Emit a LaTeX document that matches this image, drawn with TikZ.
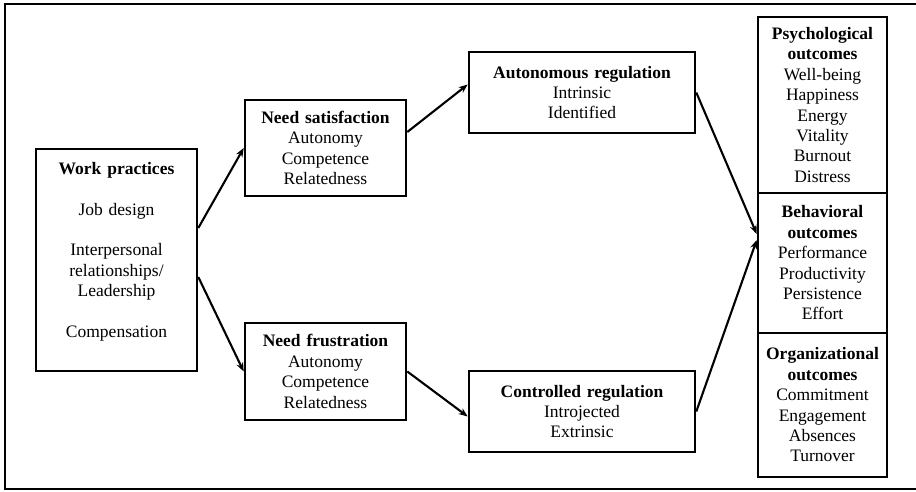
\documentclass[tikz,border=0pt]{standalone}
\usepackage{fontspec}
\setmainfont{Liberation Serif}
\usetikzlibrary{arrows.meta}

\tikzset{
  box/.style={draw, line width=2.6pt, align=center, inner sep=2pt,
    font=\fontsize{17.5}{20.4}\selectfont},
  flow/.style={-{Stealth[length=9pt, width=7pt]}, line width=2.1pt},
}

\begin{document}
\begin{tikzpicture}[x=1pt, y=-1pt]
    \clip (0,0) rectangle (916,491);
    \draw[line width=1.5pt] (5,4) rectangle (930,489);

    \node[box, minimum width=161pt, minimum height=222pt, text width=150pt] (work) at (116.5,260)
        {\textbf{Work practices}\\[20.4pt] Job design\\[20.4pt] Interpersonal\\ relationships/\\ Leadership\\[20.4pt] Compensation\\ \mbox{}};

    \node[box, minimum width=161pt, minimum height=96pt, text width=150pt] (needsat) at (325.5,148)
        {\textbf{Need satisfaction}\\ Autonomy\\ Competence\\ Relatedness};
    \node[box, minimum width=161pt, minimum height=97pt, text width=150pt] (needfrus) at (325.5,371.5)
        {\textbf{Need frustration}\\ Autonomy\\ Competence\\ Relatedness};

    \node[box, minimum width=226pt, minimum height=81pt, text width=215pt] (autreg) at (582,92.5)
        {\textbf{Autonomous regulation}\\ Intrinsic\\ Identified};
    \node[box, minimum width=226pt, minimum height=81pt, text width=215pt] (conreg) at (582,411.5)
        {\textbf{Controlled regulation}\\ Introjected\\ Extrinsic};

    \node[box, minimum width=129pt, minimum height=176pt, text width=122pt] (psych) at (822.5,105)
        {\textbf{Psychological}\\ \textbf{outcomes}\\ Well-being\\ Happiness\\ Energy\\ Vitality\\ Burnout\\ Distress};
    \node[box, minimum width=129pt, minimum height=140pt, text width=122pt] (behav) at (822.5,263)
        {\textbf{Behavioral}\\ \textbf{outcomes}\\ Performance\\ Productivity\\ Persistence\\ Effort};
    \node[box, minimum width=129pt, minimum height=144pt, text width=122pt] (org) at (822.5,405)
        {\textbf{Organizational}\\ \textbf{outcomes}\\ Commitment\\ Engagement\\ Absences\\ Turnover};

    \draw[flow] ([yshift=32pt]work.east) -- (needsat.west);
    \draw[flow] ([yshift=-17pt]work.east) -- (needfrus.west);
    \draw[flow] ([yshift=16pt]needsat.east) -- ([yshift=8pt]autreg.west);
    \draw[flow] (needfrus.east) -- ([yshift=-5pt]conreg.west);
    \draw[flow] (autreg.east) -- ([yshift=29pt]behav.west);
    \draw[flow] (conreg.east) -- ([yshift=23pt]behav.west);
\end{tikzpicture}
\end{document}
